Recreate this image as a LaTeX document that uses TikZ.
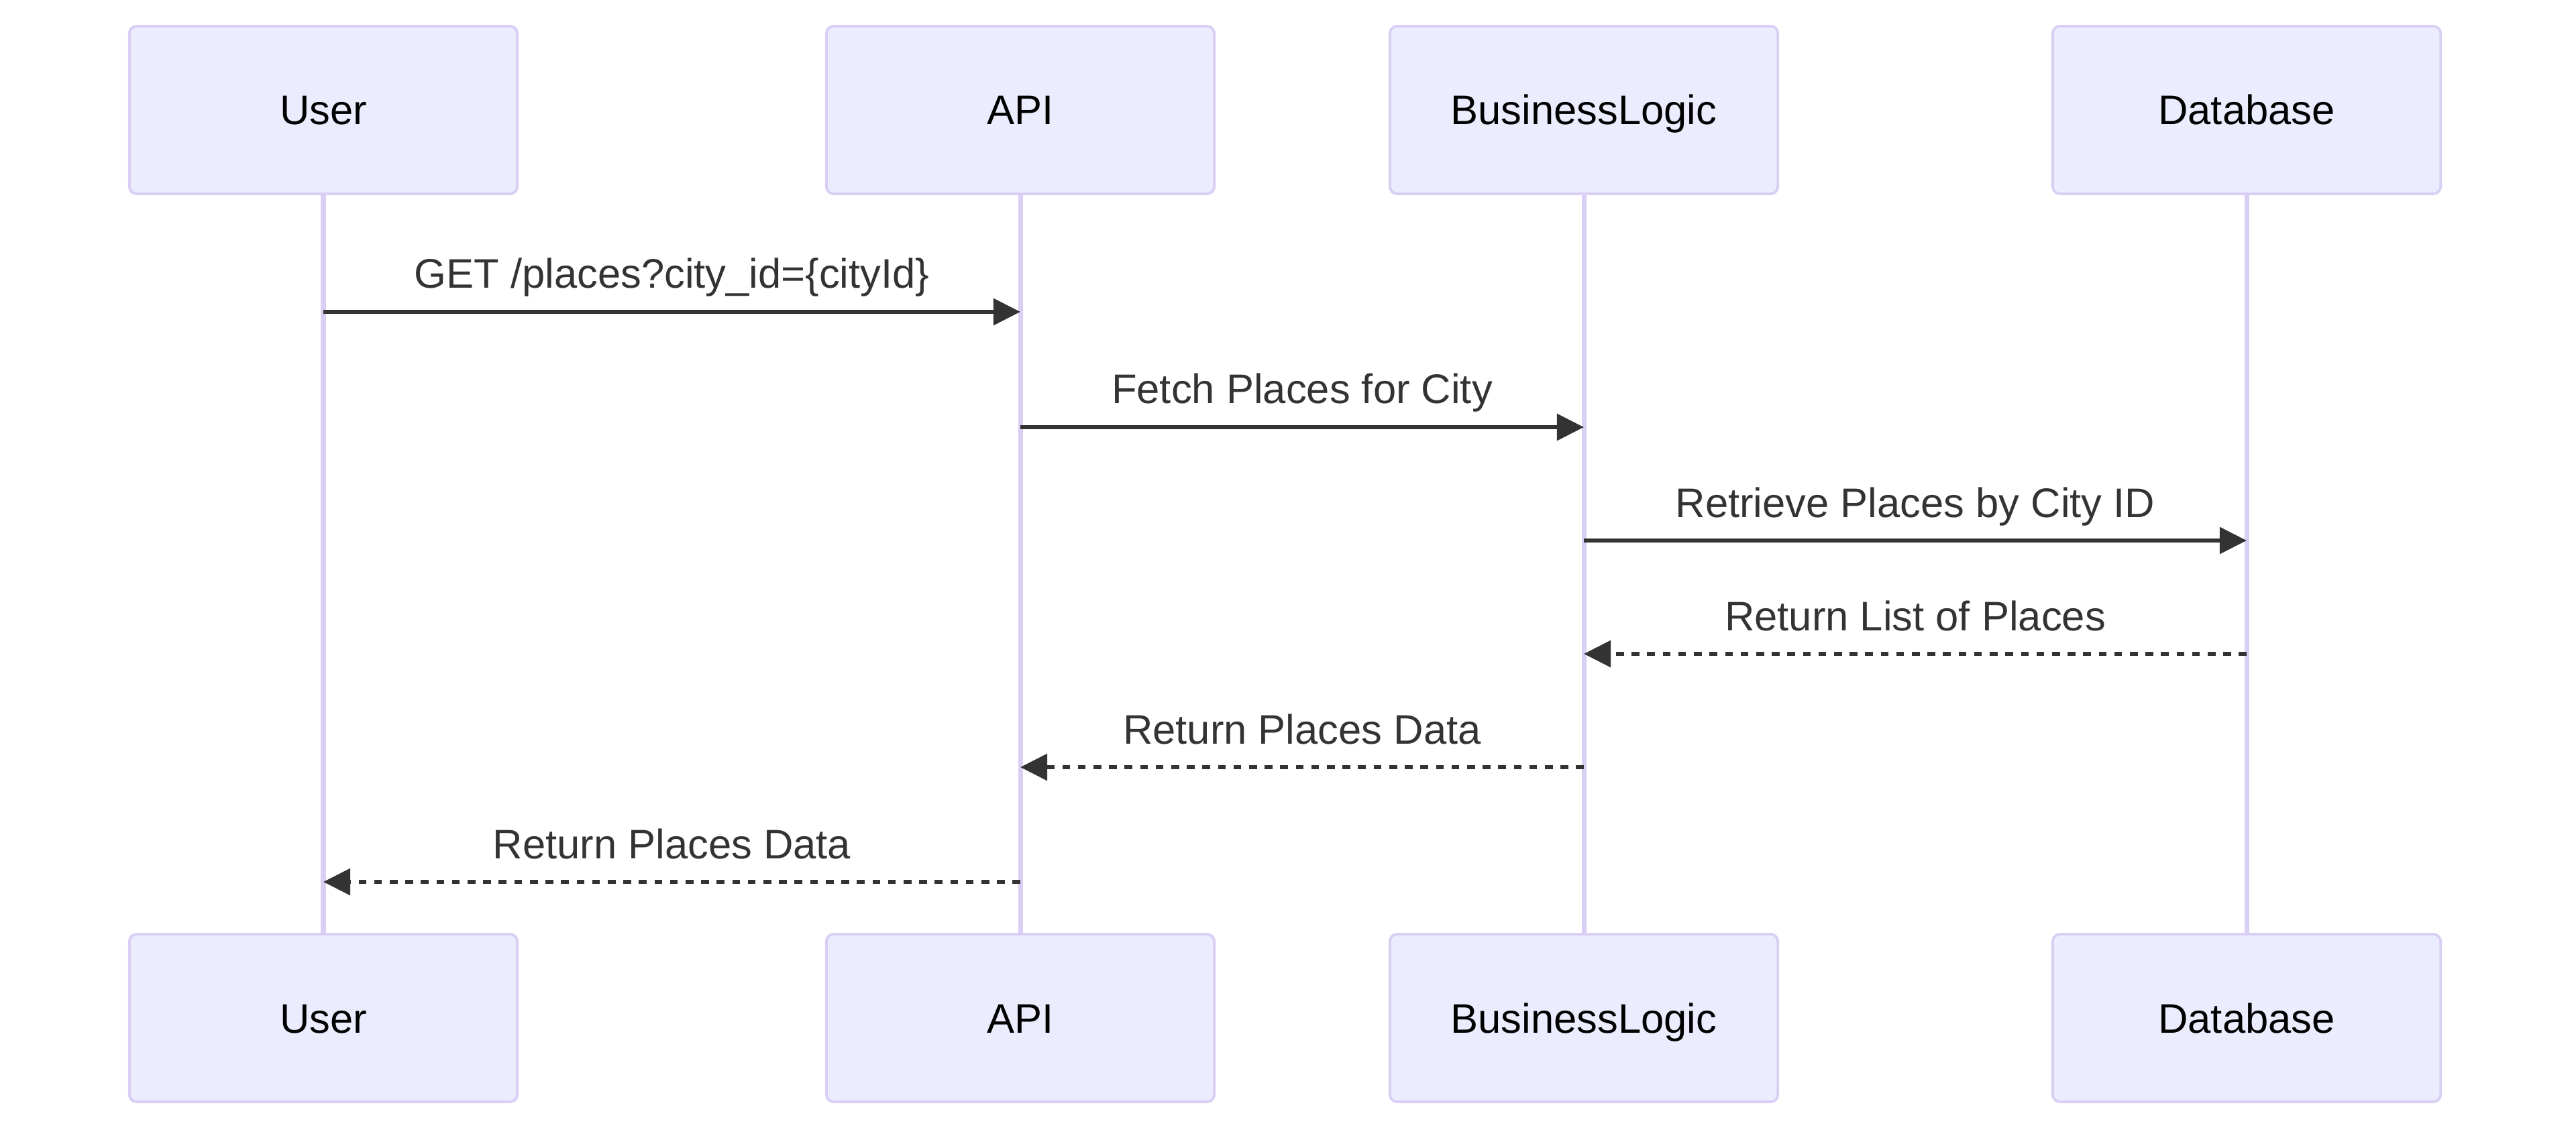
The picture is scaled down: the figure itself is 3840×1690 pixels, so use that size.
\documentclass[tikz,border=0pt]{standalone}
\usepackage{fontspec}
\setmainfont{Liberation Sans}
\usepackage{tikz}
\usetikzlibrary{arrows.meta}
\definecolor{actorfill}{HTML}{ECECFF}
\definecolor{actorline}{HTML}{D9CEF3}
\definecolor{msgline}{HTML}{333333}
\tikzset{actor/.style = {shape=rectangle, draw=actorline, fill=actorfill,
line width=1.1pt, rounded corners=0.11cm, minimum width=5.78cm,
minimum height=2.5cm, inner sep=0pt, text height=12.5pt, text depth=0pt,
font=\fontsize{17.5}{21}\selectfont}}
\tikzset{life/.style = {draw=actorline, line width=2pt}}
\tikzset{call/.style = {draw=msgline, line width=1.7pt,
-{Triangle[length=11.4pt,width=11.1pt]}}}
\tikzset{reply/.style = {call, dash pattern=on 3.3pt off 3.3pt}}
\tikzset{msg/.style = {anchor=base, yshift=0.35cm, inner sep=0pt,
text=msgline, font=\fontsize{17.5}{21}\selectfont}}

\begin{document}
\begin{tikzpicture}[x=0.01cm, y=-0.01cm]
                \useasboundingbox (0,0) rectangle (3840,1690);

                \node[actor] (U) at (482,164) {User};
                \node[actor] (A) at (1521,164) {API};
                \node[actor] (B) at (2361,164) {BusinessLogic};
                \node[actor] (D) at (3349,164) {Database};
                \node[actor] (Ub) at (482,1518) {User};
                \node[actor] (Ab) at (1521,1518) {API};
                \node[actor] (Bb) at (2361,1518) {BusinessLogic};
                \node[actor] (Db) at (3349,1518) {Database};

                \draw[life] (U) -- (Ub);
                \draw[life] (A) -- (Ab);
                \draw[life] (B) -- (Bb);
                \draw[life] (D) -- (Db);

                \coordinate (u1) at (482,465);
                \coordinate (a1) at (1521,465);
                \coordinate (a2) at (1521,637);
                \coordinate (b2) at (2361,637);
                \coordinate (b3) at (2361,806);
                \coordinate (d3) at (3349,806);
                \coordinate (d4) at (3349,975);
                \coordinate (b4) at (2361,975);
                \coordinate (b5) at (2361,1144);
                \coordinate (a5) at (1521,1144);
                \coordinate (a6) at (1521,1315);
                \coordinate (u6) at (482,1315);

                \draw[call] (u1) -- node[msg] {GET /places?city\_id=\{cityId\}} (a1);
                \draw[call] (a2) -- node[msg] {Fetch Places for City} (b2);
                \draw[call] (b3) -- node[msg] {Retrieve Places by City ID} (d3);
                \draw[reply] (d4) -- node[msg] {Return List of Places} (b4);
                \draw[reply] (b5) -- node[msg] {Return Places Data} (a5);
                \draw[reply] (a6) -- node[msg] {Return Places Data} (u6);
            \end{tikzpicture}
\end{document}
